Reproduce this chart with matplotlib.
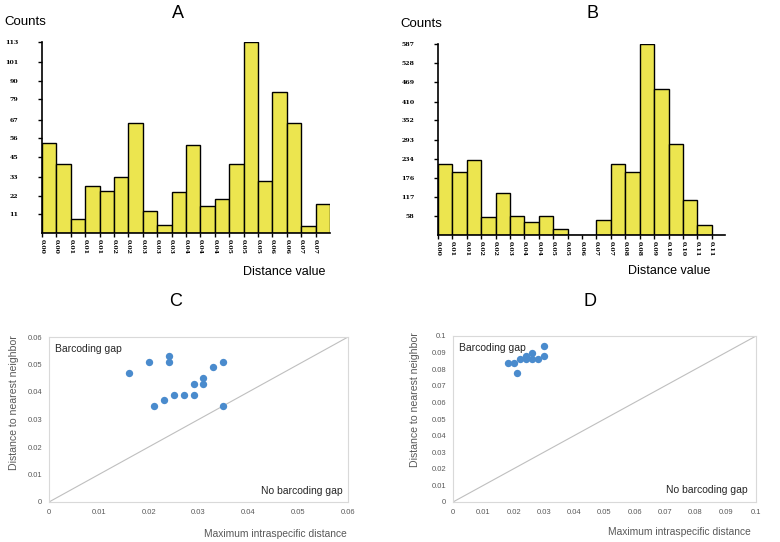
import matplotlib
matplotlib.use("Agg")
import matplotlib.pyplot as plt
import numpy as np

# Panel A histogram (20 bins)
A_COUNTS = [53, 41, 8, 28, 25, 33, 65, 13, 5, 24, 52, 16, 20, 41, 113, 31, 83, 65, 4, 17]
A_TICKS = ["0.00", "0.00", "0.01", "0.01", "0.01", "0.02", "0.02", "0.03", "0.03", "0.03",
           "0.04", "0.04", "0.04", "0.05", "0.05", "0.05", "0.06", "0.06", "0.07", "0.07"]
A_YTICKS = [11, 22, 33, 45, 56, 67, 79, 90, 101, 113]

# Panel B histogram (19 bins)
B_COUNTS = [217, 195, 229, 56, 128, 59, 41, 59, 18, 0, 0, 47, 217, 193, 587, 449, 279, 107, 32]
B_TICKS = ["0.00", "0.01", "0.01", "0.02", "0.02", "0.03", "0.04", "0.04", "0.05", "0.05",
           "0.06", "0.07", "0.07", "0.08", "0.08", "0.09", "0.10", "0.10", "0.11", "0.11"]
B_YTICKS = [58, 117, 176, 234, 293, 352, 410, 469, 528, 587]

# Panel C scatter
C_X = [0.016, 0.020, 0.024, 0.024, 0.035, 0.033, 0.031, 0.031, 0.029, 0.029, 0.027, 0.025, 0.023, 0.021, 0.035]
C_Y = [0.047, 0.051, 0.053, 0.051, 0.051, 0.049, 0.045, 0.043, 0.043, 0.039, 0.039, 0.039, 0.037, 0.035, 0.035]
C_TICKS = [0, 0.01, 0.02, 0.03, 0.04, 0.05, 0.06]

# Panel D scatter
D_X = [0.018, 0.020, 0.021, 0.022, 0.024, 0.024, 0.026, 0.026, 0.028, 0.030, 0.030]
D_Y = [0.084, 0.084, 0.078, 0.086, 0.088, 0.086, 0.090, 0.086, 0.086, 0.094, 0.088]
D_TICKS = [0, 0.01, 0.02, 0.03, 0.04, 0.05, 0.06, 0.07, 0.08, 0.09, 0.1]

YELLOW = "#ECE54F"
BLUE = "#4A8BCD"
GRAY_TXT = "#595959"

fig = plt.figure(figsize=(7.8, 5.42), dpi=100)
W, H = 780, 542


def box(l, t, r, b):
    return [l / W, (H - b) / H, (r - l) / W, (b - t) / H]


def hist_panel(rect, counts, ticks, yticks, xmax, title, title_xy, counts_xy):
    ax = fig.add_axes(rect)
    ax.bar(np.arange(len(counts)), counts, width=1.0, align="edge",
           color=YELLOW, edgecolor="black", linewidth=1.0)
    ax.set_xlim(0, xmax)
    ax.set_ylim(0, yticks[-1])
    ax.spines[["top", "right"]].set_visible(False)
    ax.spines[["left", "bottom"]].set_linewidth(1.2)
    ax.set_yticks(yticks)
    ax.set_yticklabels([str(v) for v in yticks], fontsize=4.5,
                       family="DejaVu Serif", fontweight="bold")
    ax.tick_params(axis="y", length=3, width=1, pad=14)
    ax.set_xticks(np.arange(len(ticks)))
    ax.set_xticklabels(ticks, rotation=-90, fontsize=4.5,
                       family="DejaVu Serif", fontweight="bold")
    ax.tick_params(axis="x", length=3, width=1, pad=1)
    fig.text(title_xy[0] / W, 1 - title_xy[1] / H, title, fontsize=13,
             family="Liberation Sans", ha="center", va="center")
    fig.text(counts_xy[0] / W, 1 - counts_xy[1] / H, "Counts", fontsize=9.5,
             family="Liberation Sans", ha="left", va="center")
    return ax


hist_panel(box(42, 41.7, 330, 233), A_COUNTS, A_TICKS, A_YTICKS, 20, "A", (178, 13), (4, 22))
hist_panel(box(438, 44, 725, 235), B_COUNTS, B_TICKS, B_YTICKS, 19.92, "B", (593, 13), (400, 24))
fig.text(325 / W, 1 - 272 / H, "Distance value", fontsize=9, family="Liberation Sans",
         ha="right", va="center")
fig.text(710 / W, 1 - 271 / H, "Distance value", fontsize=9, family="Liberation Sans",
         ha="right", va="center")


def scatter_panel(rect, xs, ys, ticks, title, title_xy, ylab_xy, xlab_xy, nogap_xy):
    ax = fig.add_axes(rect)
    lim = ticks[-1]
    ax.plot([0, lim], [0, lim], color="#BFBFBF", linewidth=0.8, zorder=1)
    ax.scatter(xs, ys, s=28, color=BLUE, zorder=3, linewidths=0)
    ax.set_xlim(0, lim)
    ax.set_ylim(0, lim)
    ax.set_xticks(ticks)
    ax.set_yticks(ticks)
    labels = ["0"] + [f"{t:g}" for t in ticks[1:]]
    ax.set_xticklabels(labels)
    ax.set_yticklabels(labels)
    ax.tick_params(length=0, labelsize=5.5, labelcolor=GRAY_TXT, pad=5)
    for lab in ax.get_xticklabels() + ax.get_yticklabels():
        lab.set_family("Liberation Sans")
    for sp in ax.spines.values():
        sp.set_color("#D9D9D9")
        sp.set_linewidth(0.8)
    ax.text(0.02, 0.93, "Barcoding gap", transform=ax.transAxes, fontsize=7.5,
            family="Liberation Sans", color="#262626", ha="left", va="center")
    ax.text(nogap_xy[0], nogap_xy[1], "No barcoding gap", transform=ax.transAxes,
            fontsize=7.5, family="Liberation Sans", color="#262626", ha="right", va="center")
    ax.set_ylabel("Distance to nearest neighbor", fontsize=7.6, color=GRAY_TXT,
                  family="Liberation Sans")
    ax.yaxis.set_label_coords(*ylab_xy)
    ax.set_xlabel("Maximum intraspecific distance", fontsize=7.4, color=GRAY_TXT,
                  family="Liberation Sans", ha="right")
    ax.xaxis.set_label_coords(*xlab_xy)
    fig.text(title_xy[0] / W, 1 - title_xy[1] / H, title, fontsize=13,
             family="Liberation Sans", ha="center", va="center")
    return ax


scatter_panel(box(49, 337, 348, 502), C_X, C_Y, C_TICKS, "C", (176, 302),
              (-0.10, 0.6), (0.997, -0.165), (0.983, 0.067))
scatter_panel(box(453, 336, 756, 502), D_X, D_Y, D_TICKS, "D", (590, 302),
              (-0.11, 0.62), (0.983, -0.15), (0.974, 0.07))

fig.savefig("out.png", dpi=100)
